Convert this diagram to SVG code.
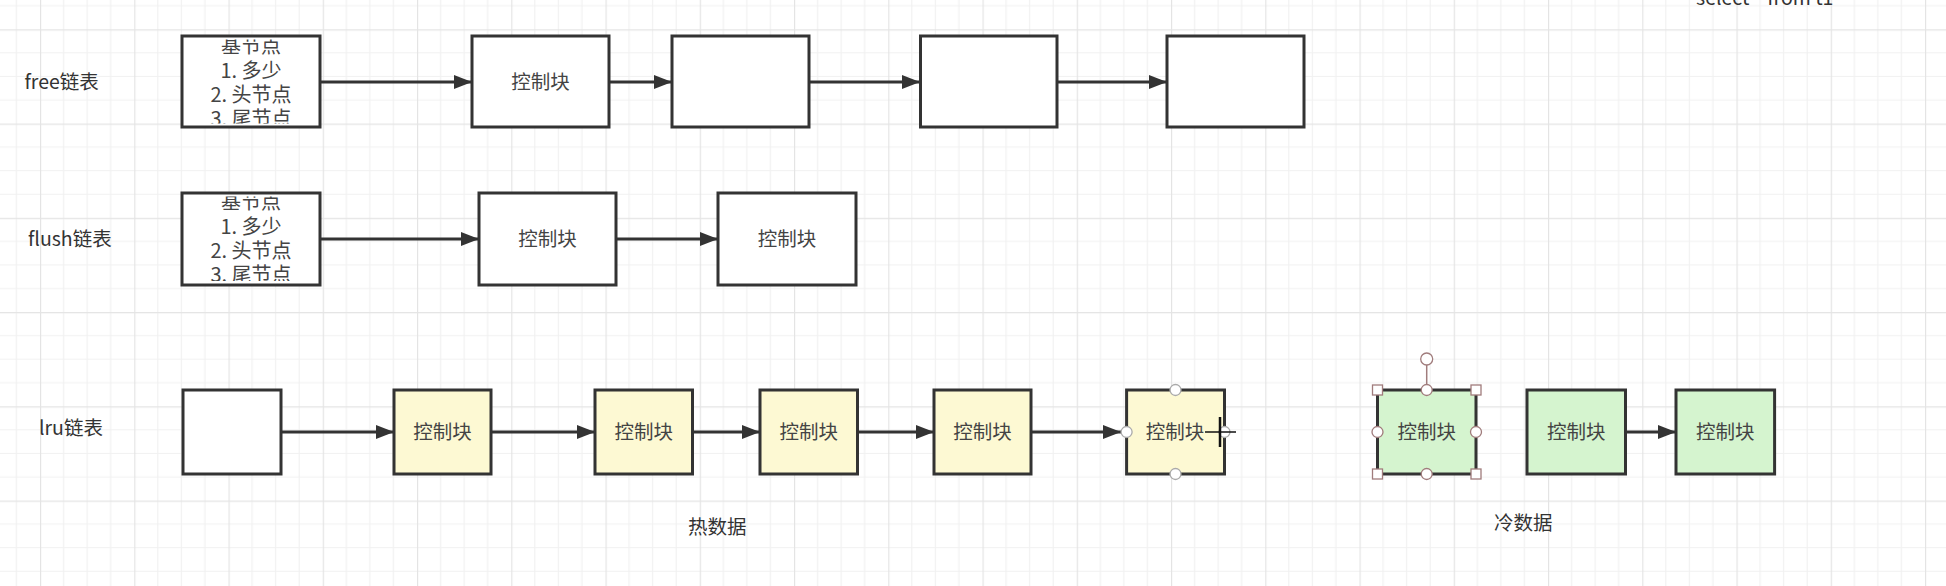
<svg xmlns="http://www.w3.org/2000/svg" width="1946" height="586" viewBox="0 0 1946 586">
<defs>
<style>
.box{stroke:#333;stroke-width:3;fill:#fff}
.yel{fill:#fdf9d3}
.grn{fill:#d5f4cf}
.t{font-family:"Noto Sans CJK SC","Noto Sans",sans-serif;font-size:19.5px;fill:#444;text-anchor:middle}
.hl{font-size:20px}
.lbl{font-family:"Noto Sans CJK SC","Noto Sans",sans-serif;font-size:19.5px;fill:#333}
.edge{stroke:#333;stroke-width:3;fill:none;marker-end:url(#ah)}
.h1{fill:#fff;stroke:#aaa;stroke-width:1.3}
.h2{fill:#fff;stroke:#a07c7c;stroke-width:1.3}
</style>
<marker id="ah" markerUnits="userSpaceOnUse" markerWidth="20" markerHeight="16" refX="18" refY="7" orient="auto">
<path d="M0,0 L18,7 L0,14 z" fill="#333"/>
</marker>
<pattern id="grid" patternUnits="userSpaceOnUse" x="40" y="29.3" width="94.25" height="94.25">
<path d="M23.56,0V94.25M47.12,0V94.25M70.69,0V94.25M0,23.56H94.25M0,47.12H94.25M0,70.69H94.25" stroke="#f1f1f1" stroke-width="1.2"/>
<path d="M0.5,0V94.25M0,0.5H94.25" stroke="#e4e4e4" stroke-width="1.4"/>
</pattern>
<clipPath id="c1"><rect x="183.5" y="39.5" width="135" height="84"/></clipPath>
<clipPath id="c2"><rect x="183.5" y="196.5" width="135" height="84.5"/></clipPath>
</defs>
<rect width="1946" height="586" fill="#fff"/>
<rect width="1946" height="586" fill="url(#grid)"/>

<text class="lbl" x="1696" y="4.5">select * from t1</text>

<g id="labels">
<text class="lbl" x="24.5" y="88.5">free链表</text>
<text class="lbl" x="28" y="245.5">flush链表</text>
<text class="lbl" x="39" y="435">lru链表</text>
<text class="lbl" x="688" y="534">热数据</text>
<text class="lbl" x="1494" y="530">冷数据</text>
</g>

<g id="connectors">
<line class="edge" x1="320" y1="82" x2="472" y2="82"/>
<line class="edge" x1="609" y1="82" x2="672" y2="82"/>
<line class="edge" x1="809" y1="82" x2="920" y2="82"/>
<line class="edge" x1="1057" y1="82" x2="1167" y2="82"/>
<line class="edge" x1="320" y1="239" x2="479" y2="239"/>
<line class="edge" x1="616" y1="239" x2="718" y2="239"/>
<line class="edge" x1="281" y1="432" x2="394" y2="432"/>
<line class="edge" x1="491" y1="432" x2="595" y2="432"/>
<line class="edge" x1="692.5" y1="432" x2="760" y2="432"/>
<line class="edge" x1="857.5" y1="432" x2="934" y2="432"/>
<line class="edge" x1="1031" y1="432" x2="1121" y2="432"/>
<line class="edge" x1="1625.5" y1="432" x2="1676" y2="432"/>
</g>

<g id="free-head">
<rect class="box" x="182" y="36" width="138" height="91"/>
<g clip-path="url(#c1)">
<text class="t hl" x="251" y="53.2">基节点</text>
<text class="t hl" x="251" y="77.5">1. 多少</text>
<text class="t hl" x="251" y="101.8">2. 头节点</text>
<text class="t hl" x="251" y="126.1">3. 尾节点</text>
</g>
</g>
<g id="free-2"><rect class="box" x="472" y="36" width="137" height="91"/><text class="t" x="540.5" y="88.5">控制块</text></g>
<g id="free-3"><rect class="box" x="672" y="36" width="137" height="91"/></g>
<g id="free-4"><rect class="box" x="920.5" y="36" width="136.5" height="91"/></g>
<g id="free-5"><rect class="box" x="1167" y="36" width="137" height="91"/></g>

<g id="flush-head">
<rect class="box" x="182" y="193" width="138" height="92"/>
<g clip-path="url(#c2)">
<text class="t hl" x="251" y="209.2">基节点</text>
<text class="t hl" x="251" y="233.6">1. 多少</text>
<text class="t hl" x="251" y="258">2. 头节点</text>
<text class="t hl" x="251" y="282.4">3. 尾节点</text>
</g>
</g>
<g id="flush-2"><rect class="box" x="479" y="193" width="137" height="92"/><text class="t" x="547.5" y="246">控制块</text></g>
<g id="flush-3"><rect class="box" x="718" y="193" width="138" height="92"/><text class="t" x="787" y="246">控制块</text></g>

<g id="lru-head"><rect class="box" x="183" y="390" width="98" height="84"/></g>
<g id="lru-1"><rect class="box yel" x="394" y="390" width="97" height="84"/><text class="t" x="442.5" y="439">控制块</text></g>
<g id="lru-2"><rect class="box yel" x="595" y="390" width="97.5" height="84"/><text class="t" x="643.7" y="439">控制块</text></g>
<g id="lru-3"><rect class="box yel" x="760" y="390" width="97.5" height="84"/><text class="t" x="808.7" y="439">控制块</text></g>
<g id="lru-4"><rect class="box yel" x="934" y="390" width="97" height="84"/><text class="t" x="982.5" y="439">控制块</text></g>
<g id="lru-5">
<rect class="box yel" x="1126.6" y="390" width="97.9" height="84"/><text class="t" x="1175" y="439">控制块</text>
<circle class="h1" cx="1175.5" cy="390" r="5.5"/>
<circle class="h1" cx="1175.5" cy="474" r="5.5"/>
<circle class="h1" cx="1126.6" cy="432" r="5.5"/>
<circle class="h1" cx="1224.5" cy="432" r="5.5"/>
</g>
<g id="lru-6">
<rect class="box grn" x="1377.5" y="390" width="98.5" height="84"/><text class="t" x="1426.7" y="439">控制块</text>
<line x1="1426.7" y1="365" x2="1426.7" y2="390" stroke="#a07c7c" stroke-width="1.5"/>
<circle class="h2" cx="1426.7" cy="359" r="6"/>
<rect class="h2" x="1372.5" y="385" width="10" height="10"/>
<rect class="h2" x="1471" y="385" width="10" height="10"/>
<rect class="h2" x="1372.5" y="469" width="10" height="10"/>
<rect class="h2" x="1471" y="469" width="10" height="10"/>
<circle class="h2" cx="1426.7" cy="390" r="5.5"/>
<circle class="h2" cx="1426.7" cy="474" r="5.5"/>
<circle class="h2" cx="1377.5" cy="432" r="5.5"/>
<circle class="h2" cx="1476" cy="432" r="5.5"/>
</g>
<g id="lru-7"><rect class="box grn" x="1527" y="390" width="98.5" height="84"/><text class="t" x="1576.2" y="439">控制块</text></g>
<g id="lru-8"><rect class="box grn" x="1676" y="390" width="98.6" height="84"/><text class="t" x="1725.3" y="439">控制块</text></g>

<g id="cursor">
<line x1="1220" y1="417" x2="1220" y2="447" stroke="#111" stroke-width="2.5"/>
<line x1="1205" y1="432" x2="1236" y2="432" stroke="#111" stroke-width="1.5"/>
</g>
</svg>
